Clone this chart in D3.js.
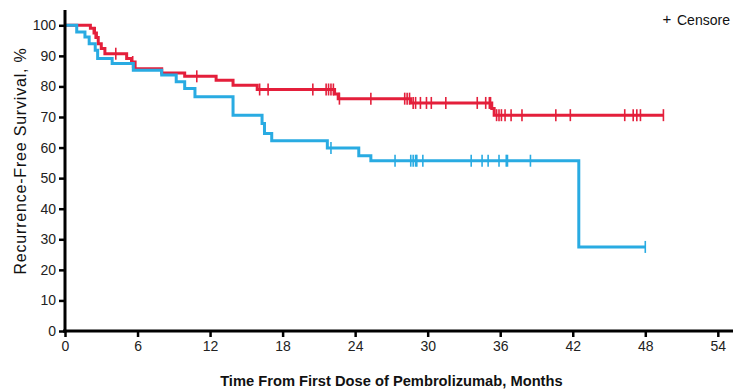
<!DOCTYPE html>
<html>
<head>
<meta charset="utf-8">
<script src="https://cdn.jsdelivr.net/npm/d3@7.9.0/dist/d3.min.js"></script>
<style>
  html, body { margin: 0; padding: 0; background: #fff; }
  svg { display: block; font-family: "Liberation Sans", Arial, sans-serif; }
</style>
</head>
<body>
<div id="chart"></div>
<script>
// Kaplan-Meier steps: [month, survival %]
const redSteps = [
  [0, 100], [2.1, 99.0], [2.4, 97.5], [2.6, 96.0], [2.75, 94.0], [3.0, 92.4],
  [3.3, 90.7], [5.1, 89.1], [5.5, 88.0], [5.8, 85.8], [8.0, 84.4], [9.9, 83.3],
  [12.5, 82.0], [13.9, 80.4], [15.9, 79.0], [22.3, 77.5], [22.6, 76.0],
  [28.6, 74.6], [35.3, 72.8], [35.5, 70.6]
];
const redEnd = 49.5;
const redCensors = [
  2.5, 4.2, 5.6, 10.9, 16.1, 16.8, 20.5, 21.6, 21.8, 22.0, 22.2, 22.7, 25.3,
  28.1, 28.3, 28.5, 28.8, 29.0, 29.4, 29.9, 30.3, 31.5, 34.1, 34.8, 35.1, 35.2,
  35.7, 35.9, 36.1, 36.4, 36.9, 37.8, 40.6, 41.8, 46.3, 47.0, 47.3, 47.6, 49.5
];

const blueSteps = [
  [0, 100], [0.97, 97.8], [1.65, 96.2], [2.0, 94.0], [2.5, 91.8], [2.7, 89.1],
  [3.9, 87.5], [5.65, 85.3], [8.0, 83.7], [9.2, 81.5], [9.9, 79.3], [10.75, 76.6],
  [13.9, 70.6], [16.3, 67.9], [16.5, 64.6], [17.1, 62.2], [21.7, 59.9],
  [24.3, 57.3], [25.3, 55.7], [42.5, 27.5]
];
const blueEnd = 48.0;
const blueCensors = [
  0, 22.0, 27.3, 28.6, 28.8, 29.0, 29.1, 29.6, 33.6, 34.5, 35.0, 35.9, 36.5,
  36.6, 38.5, 48.0
];

const xTicks = [0, 6, 12, 18, 24, 30, 36, 42, 48, 54];
const yTicks = [0, 10, 20, 30, 40, 50, 60, 70, 80, 90, 100];

const width = 733;
const height = 390;

const svg = d3.select("#chart")
  .append("svg")
  .attr("width", width)
  .attr("height", height);

const x = d3.scaleLinear().domain([0, 56]).range([65, 742]);
const y = d3.scaleLinear().domain([0, 105]).range([331, 10]);

// value of a step curve at time t
function survivalAt(steps, t) {
  let v = steps[0][1];
  for (const [m, s] of steps) {
    if (m <= t) v = s;
  }
  return v;
}

function drawCurve(steps, end, censors, color) {
  const pts = steps.concat([[end, steps[steps.length - 1][1]]]);
  const line = d3.line()
    .x((d) => x(d[0]))
    .y((d) => y(d[1]))
    .curve(d3.curveStepAfter);

  svg.append("path")
    .datum(pts)
    .attr("fill", "none")
    .attr("stroke", color)
    .attr("stroke-width", 3)
    .attr("d", line);

  svg.append("g")
    .selectAll("line")
    .data(censors)
    .join("line")
    .attr("x1", (d) => x(d))
    .attr("x2", (d) => x(d))
    .attr("y1", (d) => y(survivalAt(steps, d)) - 6)
    .attr("y2", (d) => y(survivalAt(steps, d)) + 6)
    .attr("stroke", color)
    .attr("stroke-width", 1.6);
}

drawCurve(redSteps, redEnd, redCensors, "#e41f3b");
drawCurve(blueSteps, blueEnd, blueCensors, "#29abe2");

// axes
const xAxis = svg.append("g")
  .attr("transform", `translate(0, ${y(0)})`)
  .call(d3.axisBottom(x).tickValues(xTicks).tickSize(6).tickPadding(4));

const yAxis = svg.append("g")
  .attr("transform", `translate(${x(0)}, 0)`)
  .call(d3.axisLeft(y).tickValues(yTicks).tickSize(6).tickPadding(3));

[xAxis, yAxis].forEach((g) => {
  g.select(".domain").attr("stroke", "#000").attr("stroke-width", 3);
  g.selectAll(".tick line").attr("stroke", "#000").attr("stroke-width", 2.5);
  g.selectAll(".tick text")
    .attr("fill", "#222")
    .style("font-size", "14px")
    .style("font-family", "'Liberation Sans', Arial, sans-serif");
});
xAxis.select(".domain").attr("d", `M${x(0) - 2},0H${x(56)}`);
yAxis.select(".domain").attr("d", `M0,${y(0) + 1.5}V${y(105)}`);

// axis titles
svg.append("text")
  .attr("x", (x(0) + x(54)) / 2)
  .attr("y", 386)
  .attr("text-anchor", "middle")
  .attr("font-weight", "bold")
  .attr("font-size", 14.7)
  .attr("fill", "#111")
  .text("Time From First Dose of Pembrolizumab, Months");

svg.append("text")
  .attr("transform", `translate(26, ${161}) rotate(-90)`)
  .attr("text-anchor", "middle")
  .attr("font-size", 16)
  .attr("letter-spacing", 0.8)
  .attr("fill", "#111")
  .text("Recurrence-Free Survival, %");

// legend
svg.append("text")
  .attr("x", 667)
  .attr("y", 24)
  .attr("text-anchor", "middle")
  .attr("font-size", 15)
  .attr("fill", "#111")
  .text("+");

svg.append("text")
  .attr("x", 677)
  .attr("y", 25)
  .attr("font-size", 14)
  .attr("fill", "#111")
  .text("Censore");
</script>
</body>
</html>
